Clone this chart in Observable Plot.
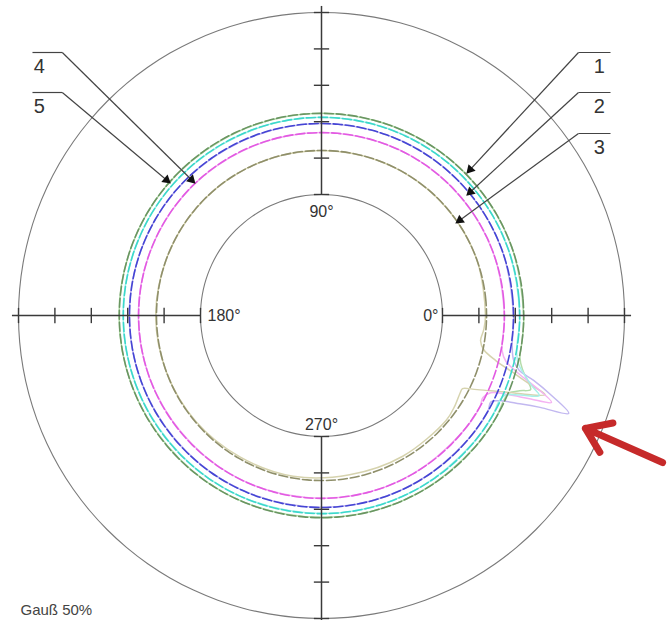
<!DOCTYPE html>
<html>
<head>
<meta charset="utf-8">
<script src="https://cdn.jsdelivr.net/npm/d3@7"></script>
<script src="https://cdn.jsdelivr.net/npm/@observablehq/plot@0.6"></script>
<style>
  html, body { margin: 0; padding: 0; background: #fff; }
  #chart { width: 667px; height: 620px; }
  #chart svg { overflow: visible; }
</style>
</head>
<body>
<div id="chart"></div>
<script>
// ---------- DATA (radial unit = one axis tick; inner circle = 0, outer circle = 5) ----------
const innerRadius = 3.324;            // radius of the inner reference circle, in tick units
const tickValues = [0, 1, 2, 3, 4, 5];
const axisAngles = [0, 90, 180, 270];
const axisLabels = ["0°", "90°", "180°", "270°"];

const seriesIds = ["1", "2", "3", "4", "5"];
const ringRadii = [2.23, 1.95, 1.21, 1.70, 2.12];   // fitted (dashed) circles

// measured profiles: [angle in degrees, radial value]
const profile1 = [[-40,2.23],[-30,2.23],[-25,2.20],[-22.5,2.25],[-20.8,2.50],[-19.5,2.77],[-17.5,2.61],[-15,2.39],[-12,2.25],[-8,2.23],
  [0,2.23],[20,2.23],[40,2.23],[60,2.24],[80,2.23],[100,2.23],[120,2.22],[140,2.23],[160,2.23],[180,2.24],[200,2.23],[220,2.22],[240,2.23],[260,2.22],[280,2.23],[300,2.23]];
const profile2 = [[-40,1.95],[-30,1.95],[-27,1.90],[-25.5,2.12],[-24,2.64],[-22.8,3.19],[-21.6,3.98],[-19,3.32],[-17,2.77],[-15.5,2.31],[-13,2.09],[-9,1.98],
  [0,1.95],[20,1.95],[40,1.95],[60,1.96],[80,1.95],[100,1.95],[120,1.94],[140,1.95],[160,1.95],[180,1.96],[200,1.95],[220,1.94],[240,1.95],[260,1.94],[280,1.95],[300,1.95]];
const profile3 = [[-40,1.15],[-34,1.10],[-29.3,1.04],[-27.4,1.04],[-26,1.29],[-24,1.76],[-22,2.34],[-20.6,2.88],[-19.5,3.19],[-18.3,2.72],[-16.5,2.14],[-14.5,1.62],[-12,1.24],[-9,1.10],[-5,1.15],
  [0,1.18],[20,1.21],[40,1.21],[60,1.21],[80,1.21],[100,1.21],[120,1.21],[140,1.21],[160,1.21],[180,1.23],[200,1.21],[220,1.19],[240,1.16],[260,1.16],[280,1.12],[300,1.14]];
const profile4 = [[-40,1.70],[-30,1.70],[-27,1.65],[-24.5,1.79],[-23,2.23],[-21.8,2.83],[-20.7,3.43],[-18.5,2.88],[-16.5,2.34],[-14,1.90],[-11,1.73],
  [0,1.70],[20,1.70],[40,1.70],[60,1.71],[80,1.70],[100,1.70],[120,1.69],[140,1.70],[160,1.70],[180,1.71],[200,1.70],[220,1.69],[240,1.70],[260,1.69],[280,1.70],[300,1.70]];
const profile5 = [[-40,2.12],[-30,2.12],[-26,2.09],[-23.5,2.17],[-21.8,2.55],[-20.2,3.05],[-18.5,2.77],[-16,2.45],[-13.5,2.23],[-10,2.12],
  [0,2.12],[20,2.12],[40,2.12],[60,2.13],[80,2.12],[100,2.12],[120,2.11],[140,2.12],[160,2.12],[180,2.13],[200,2.12],[220,2.11],[240,2.12],[260,2.11],[280,2.12],[300,2.12]];
const profiles = [profile1, profile2, profile3, profile4, profile5];

// call-outs: label and the point (angle, radial value) the leader arrow points at
const calloutLabels = ["1", "2", "3", "4", "5"];
const calloutAngles = [44.4, 39.6, 34.5, 133.7, 138.8];
const calloutRadii  = [2.25, 1.84, 1.14, 1.69, 2.18];

const captionText = "Gauß 50%";

// ---------- STYLE / LAYOUT ----------
const dashColors    = {"1": "#6a9562", "2": "#4545d4", "3": "#8f8f6a", "4": "#e25ae2", "5": "#3cd8cb"};
const profileColors = {"1": "#b4dcaa", "2": "#c2b8f0", "3": "#d6d3ae", "4": "#f4b2f2", "5": "#a8f0ea"};
const calloutLayout = {               // leader bar start (x), bar end (x), bar y, label x — in chart units
  "1": {bx: 7.06, ex: 7.94, y: 7.225, lx: 7.63},
  "2": {bx: 7.06, ex: 7.94, y: 6.126, lx: 7.63},
  "3": {bx: 7.06, ex: 7.94, y: 5.00,  lx: 7.63},
  "4": {bx: -7.12, ex: -7.94, y: 7.225, lx: -7.75},
  "5": {bx: -7.12, ex: -7.94, y: 6.126, lx: -7.75}
};
const labelOffsets = {
  "0°":   {dx: -4, dy: 0,   anchor: "end"},
  "90°":  {dx: 0,  dy: 17,  anchor: "middle"},
  "180°": {dx: 7,  dy: 0,   anchor: "start"},
  "270°": {dx: 0,  dy: -12, anchor: "middle"}
};
const redArrow = {x1: 9.37, y1: -4.04, x2: 7.25, y2: -3.10};

// ---------- GEOMETRY HELPERS ----------
const rad = d => d * Math.PI / 180;
const polar = (a, v) => ({x: (innerRadius + v) * Math.cos(rad(a)), y: (innerRadius + v) * Math.sin(rad(a))});
const circleAngles = d3.range(0, 360, 5);
const circlePts = v => circleAngles.map(a => polar(a, v));

const profileData = profiles.map((p, i) => p.map(([a, v]) => ({...polar(a, v), s: seriesIds[i]})));

const axisSegs = axisAngles.map(a => {
  const p1 = polar(a, 0), p2 = polar(a, 5.18);
  return {x1: p1.x, y1: p1.y, x2: p2.x, y2: p2.y};
});
const tickSegs = axisAngles.flatMap(a => tickValues.map(t => {
  const c = polar(a, t), h = 0.21;
  const px = -Math.sin(rad(a)) * h, py = Math.cos(rad(a)) * h;
  return {x1: c.x - px, y1: c.y - py, x2: c.x + px, y2: c.y + py};
}));

const callouts = calloutLabels.map((lab, i) => {
  const L = calloutLayout[lab];
  const tip = polar(calloutAngles[i], calloutRadii[i]);
  const du = tip.x - L.bx, dv = tip.y - L.y, len = Math.hypot(du, dv);
  const back = 0.15;
  return {
    lab, bx: L.bx, ex: L.ex, y: L.y, lx: L.lx,
    hx: tip.x - du / len * back, hy: tip.y - dv / len * back,
    rot: Math.atan2(du, dv) * 180 / Math.PI
  };
});

// ---------- MARKS ----------
const marks = [];
// reference circles
marks.push(Plot.line(circlePts(0), {x: "x", y: "y", curve: "catmull-rom-closed", stroke: "#7a7a7a", strokeWidth: 1.1}));
marks.push(Plot.line(circlePts(5), {x: "x", y: "y", curve: "catmull-rom-closed", stroke: "#7a7a7a", strokeWidth: 1.1}));
// measured profiles (thin, light)
profileData.forEach((pts, i) => {
  marks.push(Plot.line(pts, {x: "x", y: "y", curve: "catmull-rom-closed", stroke: profileColors[seriesIds[i]], strokeWidth: 1.5}));
});
// fitted circles (dashed)
seriesIds.forEach((s, i) => {
  marks.push(Plot.line(circlePts(ringRadii[i]), {x: "x", y: "y", curve: "catmull-rom-closed",
    stroke: dashColors[s], strokeWidth: 1.6, strokeDasharray: "9,3"}));
});
// axes and ticks
marks.push(Plot.link(axisSegs, {x1: "x1", y1: "y1", x2: "x2", y2: "y2", stroke: "#3a3a3a", strokeWidth: 1.5}));
marks.push(Plot.link(tickSegs, {x1: "x1", y1: "y1", x2: "x2", y2: "y2", stroke: "#3a3a3a", strokeWidth: 1.4}));
// angle labels
axisAngles.forEach((a, i) => {
  const lab = axisLabels[i], o = labelOffsets[lab], p = polar(a, 0);
  marks.push(Plot.text([lab], {x: () => p.x, y: () => p.y, text: d => d, dx: o.dx, dy: o.dy,
    textAnchor: o.anchor, lineAnchor: "middle", fontSize: 16, fill: "#333"}));
});
// call-out leaders
marks.push(Plot.link(callouts, {x1: "bx", y1: "y", x2: "ex", y2: "y", stroke: "#444", strokeWidth: 1.2}));
marks.push(Plot.link(callouts, {x1: "bx", y1: "y", x2: "hx", y2: "hy", stroke: "#444", strokeWidth: 1.2}));
marks.push(Plot.dot(callouts, {x: "hx", y: "hy", symbol: "triangle", r: 3.6, fill: "#111", stroke: "none", rotate: "rot"}));
marks.push(Plot.text(callouts, {x: "lx", y: "y", text: "lab", dy: 14, fontSize: 20, fill: "#333", lineAnchor: "middle"}));
// red highlight arrow
marks.push(Plot.arrow([redArrow], {x1: "x1", y1: "y1", x2: "x2", y2: "y2", stroke: "#c62a2a", strokeWidth: 7,
  headLength: 6, headAngle: 70, strokeLinecap: "round", strokeLinejoin: "round"}));
// caption
marks.push(Plot.text([captionText], {frameAnchor: "bottom-left", text: d => d, dx: 20, dy: -6,
  textAnchor: "start", lineAnchor: "bottom", fontSize: 15, fill: "#444"}));

const chart = Plot.plot({
  width: 667,
  height: 620,
  margin: 0,
  x: {domain: [-8.324, 8.324], range: [18, 624], axis: null},
  y: {domain: [-8.324, 8.324], range: [618, 12], axis: null},
  style: {fontFamily: "'Liberation Sans', Arial, sans-serif", background: "#fff"},
  marks
});
document.getElementById("chart").appendChild(chart);
</script>
</body>
</html>
